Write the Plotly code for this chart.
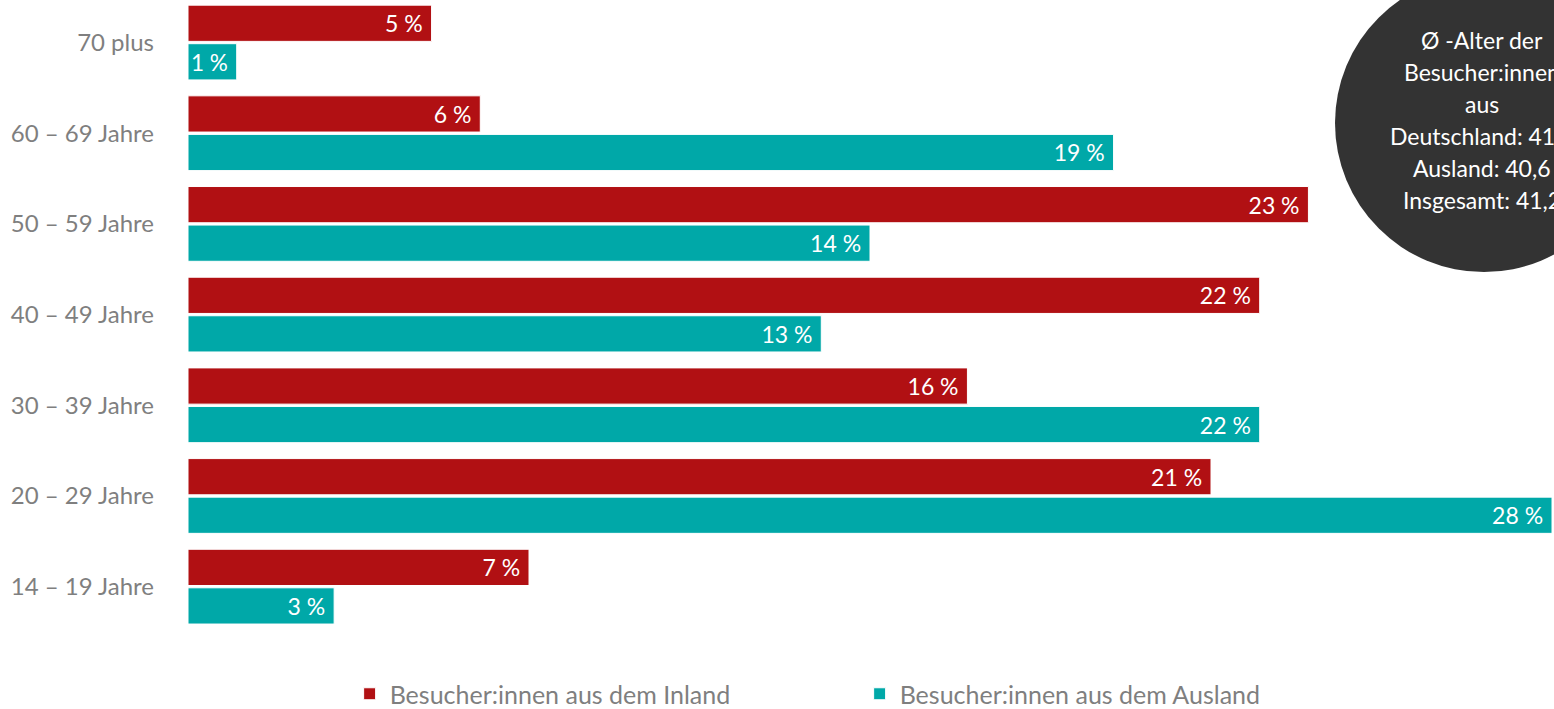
import plotly.graph_objects as go

categories = ["14 – 19 Jahre", "20 – 29 Jahre", "30 – 39 Jahre", "40 – 49 Jahre",
              "50 – 59 Jahre", "60 – 69 Jahre", "70 plus"]
inland = [7, 21, 16, 22, 23, 6, 5]
ausland = [3, 28, 22, 13, 14, 19, 1]
series_names = ["Besucher:innen aus dem Inland", "Besucher:innen aus dem Ausland"]
info_lines = ["Ø -Alter der", "Besucher:innen", "aus", "Deutschland: 41,4",
              "Ausland: 40,6", "Insgesamt: 41,2"]

RED = "#B11013"
TEAL = "#00A8A8"
GREY = "#7F7F7F"
FONT = "Lato"

fig = go.Figure()
fig.add_trace(go.Bar(
    y=categories, x=ausland, orientation="h", name=series_names[1],
    marker=dict(color=TEAL, line=dict(color="white", width=1)),
    texttemplate="%{x} %\u00a0", textposition="inside", insidetextanchor="end",
    textfont=dict(family=FONT, size=23, color="white"), legendrank=2,
))
fig.add_trace(go.Bar(
    y=categories, x=inland, orientation="h", name=series_names[0],
    marker=dict(color=RED, line=dict(color="white", width=1)),
    texttemplate="%{x} %\u00a0", textposition="inside", insidetextanchor="end",
    textfont=dict(family=FONT, size=23, color="white"), legendrank=1,
))

fig.update_layout(
    width=1554, height=709,
    margin=dict(l=188, r=2, t=0, b=77, autoexpand=False),
    barmode="group", bargap=0.15, bargroupgap=0.06,
    plot_bgcolor="white", paper_bgcolor="white",
    font=dict(family=FONT, color=GREY),
    xaxis=dict(range=[0, 28], visible=False, fixedrange=True),
    yaxis=dict(range=[-0.5, 6.469], showgrid=False, zeroline=False, showline=False,
               ticks="", tickfont=dict(family=FONT, size=24, color=GREY),
               ticklabelstandoff=33, fixedrange=True, automargin=False),
    legend=dict(orientation="h", x=0.1185, xanchor="left",
                yref="container", y=(709 - 694) / 709, yanchor="middle",
                font=dict(family=FONT, size=25, color=GREY), entrywidth=465,
                traceorder="normal"),
    showlegend=True,
)

fig.add_shape(type="circle", xref="paper", yref="paper", xsizemode="pixel", ysizemode="pixel",
              xanchor=(1484 - 188) / 1364, yanchor=(632 - 123) / 632,
              x0=-149, x1=149, y0=-149, y1=149,
              fillcolor="#333333", line=dict(width=0), layer="above")
for i, line in enumerate(info_lines):
    fig.add_annotation(xref="paper", yref="paper", x=(1482 - 188) / 1364,
                       y=(632 - (40 + 32 * i)) / 632,
                       text=line, showarrow=False, align="center",
                       xanchor="center", yanchor="middle",
                       font=dict(family=FONT, size=23, color="white"))

fig.write_html("out.html", config={"displayModeBar": False},
               post_script="document.body.style.margin='0';")
